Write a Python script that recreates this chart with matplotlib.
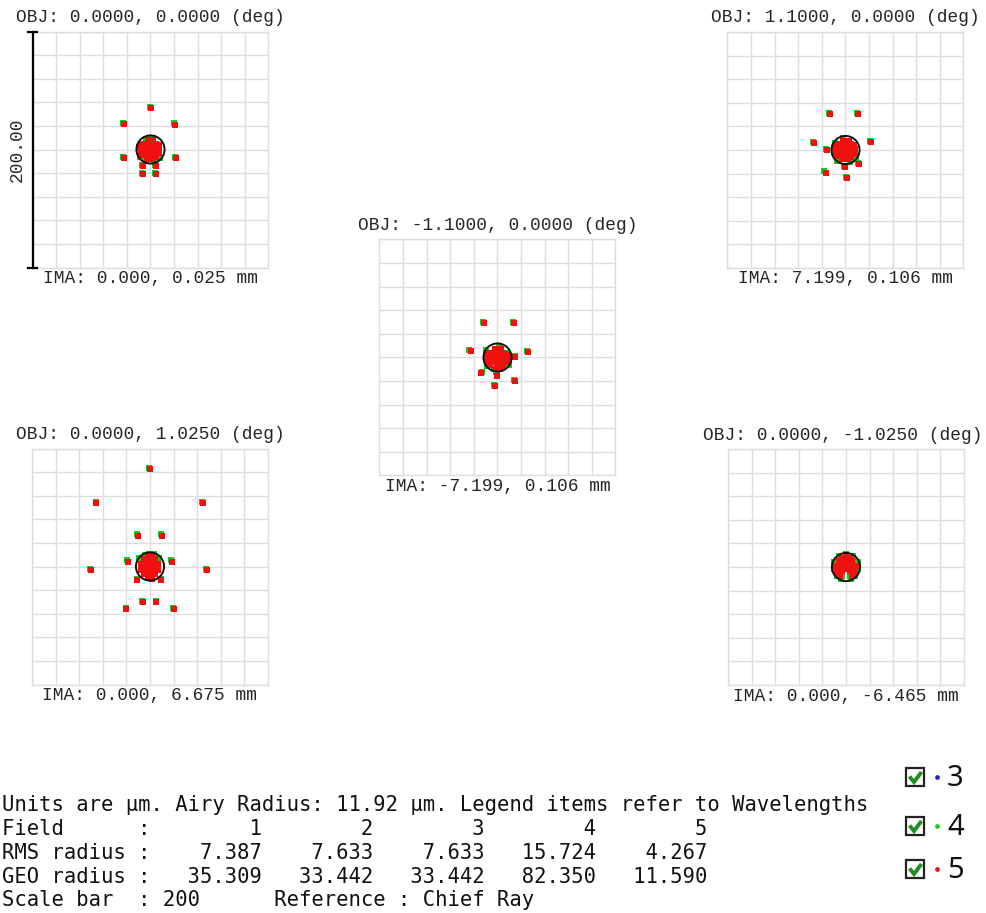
import matplotlib
matplotlib.use("Agg")
import matplotlib.pyplot as plt
from matplotlib.patches import Rectangle, Circle
from matplotlib.lines import Line2D

# ---------------- data (micrometres, relative to chief ray) ----------------
field_titles = ["OBJ: 0.0000, 0.0000 (deg)", "OBJ: 1.1000, 0.0000 (deg)",
                "OBJ: -1.1000, 0.0000 (deg)", "OBJ: 0.0000, 1.0250 (deg)",
                "OBJ: 0.0000, -1.0250 (deg)"]
ima_labels = ["IMA: 0.000, 0.025 mm", "IMA: 7.199, 0.106 mm",
              "IMA: -7.199, 0.106 mm", "IMA: 0.000, 6.675 mm",
              "IMA: 0.000, -6.465 mm"]
airy_radius = 11.92
scale_bar = 200
wavelengths = ["3", "4", "5"]
wave_colors = ["#1f1fd0", "#19c819", "#f01010"]

f1_green = [(-0.5, 36.2), (-23.3, 22.5), (20.0, 22.2), (-23.2, -6.0), (20.8, -6.0),
            (-7.2, -13.0), (-7.2, -20.0), (4.2, -13.0), (4.2, -20.0),
            (-1, 10), (2, 10), (-4, 9), (-9, -6), (8, -7), (-4, -10), (3, -10), (-10, 2)]
f1_red = [(0.5, 35.0), (-22.5, 21.5), (20.8, 21.0), (-22.5, -7.0), (21.5, -7.0),
          (-6.5, -14.0), (-6.5, -21.0), (5.0, -14.0), (5.0, -21.0),
          (0, 0), (-3, 3), (3, 3), (-3, -3), (3, -3), (0, 6), (0, -6), (-6, 0), (6, 0),
          (-6, 5), (5, 5), (-6, -5), (5, -6), (-9, 1), (7, 1), (-2, 8), (2, 8),
          (-3, -8), (2, -8), (-8, -3), (7, -3), (-8, 4), (7, 4),
          (-1.5, 1.5), (1.5, -1.5), (-4, -1), (4, 1), (-1, 4), (1, -4)]

f2_green = [(-14.2, 31.3), (9.8, 31.4), (-27.8, 6.6), (20.4, 8.0), (-16.4, 1.2),
            (-18.0, -17.8), (0.6, -22.6), (10.6, -10.8), (-1.4, -13.6),
            (-9, 6), (-10, -2), (-7, -9), (4, -10), (9, -7), (-2, 10)]
f2_red = [(-13.5, 30.5), (10.8, 30.2), (-26.8, 5.6), (21.2, 7.0), (-15.6, 0.2),
          (-16.8, -19.2), (1.2, -23.4), (11.8, -11.8), (-0.5, -14.6),
          (0, 0), (-3, 3), (3, 3), (-3, -3), (3, -3), (0, 6), (0, -6), (-6, 0), (6, 0),
          (-6, 5), (5, 5), (-6, -5), (5, -6), (-9, 1), (8, 1), (-2, 8), (3, 8),
          (-3, -8), (2, -8), (-8, -3), (8, -3), (-8, 4), (7, 4),
          (-1.5, 1.5), (1.5, -1.5), (-4, -1), (4, 1), (-1, 4), (1, -4)]

f3_green = [(-12.5, 30.0), (12.8, 30.0), (-23.8, 6.2), (25.0, 5.5), (14.6, 1.0),
            (-12.8, -12.4), (-0.8, -14.4), (14.4, -19.2), (-2.6, -23.6),
            (-10, 6), (-9, -7), (10, -6), (-1, -12), (9, 4), (1, 10)]
f3_red = [(-11.5, 29.0), (13.6, 29.0), (-22.8, 5.2), (25.8, 4.5), (15.2, 0.2),
          (-13.8, -13.4), (-0.4, -15.3), (15.2, -20.2), (-2.0, -24.4),
          (0, -1), (-3, 2), (3, 2), (-3, -4), (3, -4), (0, 5), (0, -7), (-6, -1), (6, -1),
          (-6, 4), (5, 4), (-6, -6), (5, -7), (-10, 0), (9, 0), (-2, 7), (3, 7),
          (-3, -10), (2, -10), (-9, -4), (8, -4), (-9, 3), (8, 3),
          (-1.5, 0.5), (1.5, -2.5), (-4, -2), (4, 0), (-1, 3), (1, -5)]

f4_green = [(-0.8, 83.6), (-46.0, 54.4), (44.4, 54.4), (-11.0, 27.2), (9.7, 27.2),
            (-19.2, 5.2), (18.2, 5.2), (-50.6, -1.9), (47.8, -1.9), (-11.4, -10.3),
            (9.1, -10.3), (-6.8, -29.3), (4.8, -29.3), (-20.6, -34.9), (19.5, -34.9),
            (-1, 11), (3, 10.5), (-4, 10), (-9, 7), (8, 7)]
f4_red = [(-0.2, 82.8), (-45.4, 53.4), (45.0, 53.4), (-10.4, 26.2), (10.3, 26.2),
          (-18.6, 4.2), (18.8, 4.2), (-50.1, -2.9), (48.4, -2.9), (-10.8, -11.3),
          (9.7, -11.3), (-6.2, -30.3), (5.4, -30.3), (-20.0, -35.9), (20.1, -35.9),
          (0, 0), (-3, 3), (3, 3), (-3, -3), (3, -3), (0, 7), (0, -7), (-6, 0), (6, 0),
          (-5, 6), (4, 6), (-5, -6), (4, -6), (-2, 10), (2, 10), (-2, -10), (2, -11),
          (-8, 2), (7, 2), (-8, -3), (7, -3),
          (-1.5, 1.5), (1.5, -1.5), (-1, 4.5), (1, -4.5)]

f5_green = [(0, 11), (-6, 9.5), (6, 9.5), (-10, 4), (10, 4), (-10.5, -2), (10.5, -2),
            (-8, -7.5), (8, -7.5), (-4, -10.5), (4, -10.5), (-3, -8), (3, -8)]
f5_red = [(0, 0), (-3, 3), (3, 3), (-3, -3), (3, -3), (0, 6), (-6, 0), (6, 0),
          (-6, 5), (5, 5), (-6, -5), (6, -5), (-9, 1), (9, 1), (-3, 8), (3, 8),
          (-8, -4), (8, -4), (-5, -8), (5, -8), (0, 9),
          (-1.5, 1.5), (1.5, -1.5), (-4, 1), (4, -1)]

field_numbers = [1, 2, 3, 4, 5]
rms_radius = [7.387, 7.633, 7.633, 15.724, 4.267]
geo_radius = [35.309, 33.442, 33.442, 82.350, 11.590]

# ---------------- layout ----------------
W, H = 987, 913
fig = plt.figure(figsize=(W / 100, H / 100), dpi=100)
fig.patch.set_facecolor("white")

panel_centers = [(150.5, 149.5), (845.5, 150.0), (497.5, 357.5), (150.0, 566.5), (846.0, 567.0)]
title_shift = [0, 0, 0, 0, -3]
green_sets = [f1_green, f2_green, f3_green, f4_green, f5_green]
red_sets = [f1_red, f2_red, f3_red, f4_red, f5_red]
BOX = 236.0
mono = "Liberation Mono"
txt_col = "#262626"

axes = []
for i, (cx, cy) in enumerate(panel_centers):
    ax = fig.add_axes([(cx - BOX / 2) / W, 1 - (cy + BOX / 2) / H, BOX / W, BOX / H])
    ax.set_xlim(-100, 100)
    ax.set_ylim(-100, 100)
    ax.set_xticks(range(-100, 101, 20))
    ax.set_yticks(range(-100, 101, 20))
    ax.tick_params(length=0, labelbottom=False, labelleft=False)
    ax.grid(True, color="#dedede", lw=1.0)
    ax.set_axisbelow(True)
    for s in ax.spines.values():
        s.set_color("#dedede")
        s.set_linewidth(1.0)
    g = green_sets[i]
    r = red_sets[i]
    ax.scatter([p[0] for p in g], [p[1] for p in g], s=16, marker="s",
               color=wave_colors[1], linewidths=0, zorder=3)
    ax.scatter([p[0] for p in r], [p[1] for p in r], s=16, marker="s",
               color=wave_colors[2], linewidths=0, zorder=4)
    ax.add_patch(Circle((0, 0), airy_radius, fill=False, ec="#111111", lw=1.4, zorder=5))
    ax.text(0.5 + title_shift[i] / BOX, 1 + 14 / BOX, field_titles[i], transform=ax.transAxes,
            ha="center", va="center", fontsize=12.9, family=mono, color=txt_col)
    ax.text(0.5, -11 / BOX, ima_labels[i], transform=ax.transAxes, ha="center",
            va="center", fontsize=12.9, family=mono, color=txt_col)
    axes.append(ax)

# scale bar on first panel
ax0 = axes[0]
ax0.plot([-100, -100], [-100, 100], color="black", lw=1.6, clip_on=False, zorder=6)
ax0.plot([-103.5, -96.5], [100, 100], color="black", lw=1.6, clip_on=False, zorder=6)
ax0.plot([-103.5, -96.5], [-100, -100], color="black", lw=1.6, clip_on=False, zorder=6)
ax0.text(-113, 0, f"{scale_bar:.2f}", rotation=90, ha="center", va="center",
         fontsize=12.9, family=mono, color=txt_col)

# ---------------- bottom text ----------------
lines = [
    f"Units are \u00b5m. Airy Radius: {airy_radius:.2f} \u00b5m. Legend items refer to Wavelengths",
    "Field      :" + "".join(f"{n:9d}" for n in field_numbers),
    "RMS radius :" + "".join(f"{v:9.3f}" for v in rms_radius),
    "GEO radius :" + "".join(f"{v:9.3f}" for v in geo_radius),
    f"Scale bar  : {scale_bar}      Reference : Chief Ray",
]
line_y = [805, 829, 853, 877, 900]
for t, y in zip(lines, line_y):
    fig.text(2 / W, 1 - y / H, t, ha="left", va="center", fontsize=14.8,
             family="DejaVu Sans Mono", color="#111111")

# ---------------- legend (checkboxes) ----------------
leg_y = [777, 826, 869]
for lab, col, y in zip(wavelengths, wave_colors, leg_y):
    fig.add_artist(Rectangle((906 / W, 1 - (y + 9) / H), 18 / W, 18 / H,
                             transform=fig.transFigure, fill=False, ec="#222222", lw=1.6))
    fig.add_artist(Line2D([909.5 / W, 914 / W, 921.5 / W],
                          [1 - (y - 0.5) / H, 1 - (y + 5) / H, 1 - (y - 5) / H],
                          transform=fig.transFigure, color="#1f8f1f", lw=2.8,
                          solid_capstyle="butt", solid_joinstyle="miter"))
    fig.add_artist(Line2D([937 / W], [1 - y / H], transform=fig.transFigure,
                          marker="o", markersize=2.4, color=col, lw=0))
    fig.text(947 / W, 1 - (y + 1) / H, lab, ha="left", va="center", fontsize=21,
             family="Noto Sans", color="#111111")

fig.savefig("out.png", dpi=100, facecolor="white")
